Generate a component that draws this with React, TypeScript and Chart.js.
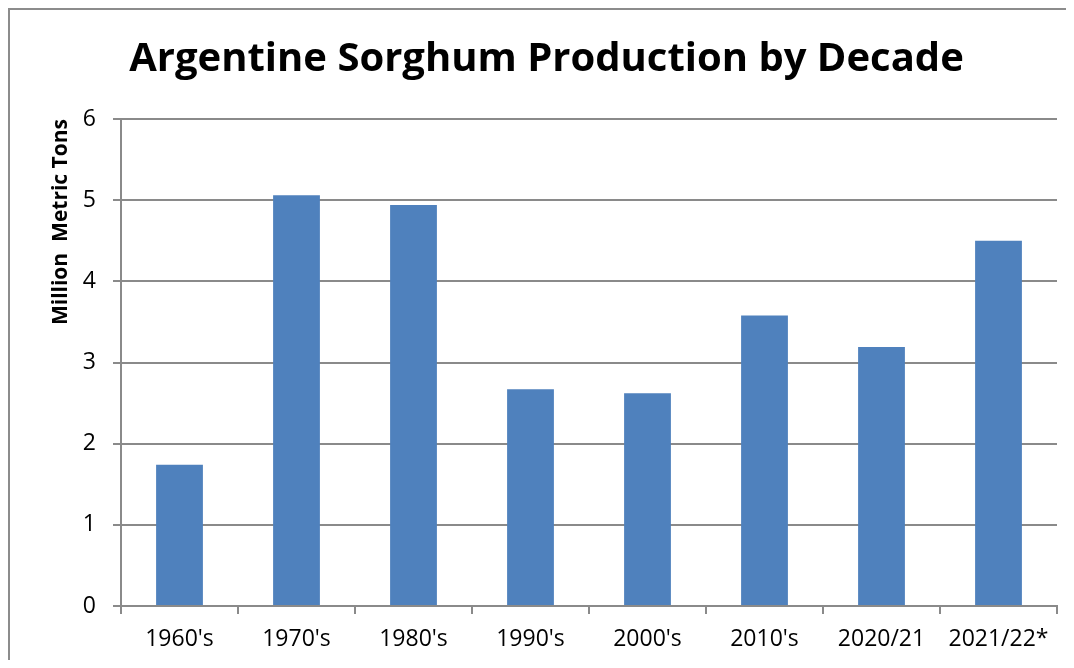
import React, { useEffect, useRef } from "react";
import { Chart, registerables } from "chart.js";

Chart.register(...registerables);

const categories = ["1960's", "1970's", "1980's", "1990's", "2000's", "2010's", "2020/21", "2021/22*"];
const production = [1.74, 5.06, 4.94, 2.67, 2.62, 3.58, 3.19, 4.5];
const yTicks = [0, 1, 2, 3, 4, 5, 6];

const chartTitle = "Argentine Sorghum Production by Decade";
const yAxisTitle = "Million  Metric Tons";

const FONT = "'Open Sans', 'Noto Sans', sans-serif";
const GRID = "#8a8a8a";

export default function App() {
  const ref = useRef<HTMLCanvasElement | null>(null);

  useEffect(() => {
    if (!ref.current) return;
    const chart = new Chart(ref.current, {
      type: "bar",
      data: {
        labels: categories,
        datasets: [
          {
            data: production,
            backgroundColor: "#4F81BD",
            borderWidth: 0,
            barPercentage: 0.4,
            categoryPercentage: 1,
          },
        ],
      },
      options: {
        animation: false,
        responsive: false,
        devicePixelRatio: 1,
        layout: { padding: { left: 26, right: 9, top: 0, bottom: 0 } },
        plugins: {
          legend: { display: false },
          tooltip: { enabled: false },
          title: {
            display: true,
            text: chartTitle,
            color: "#000",
            font: { family: FONT, size: 40, weight: "bold", lineHeight: 1.2 },
            padding: { top: 26, bottom: 35 },
          },
        },
        scales: {
          x: {
            grid: {
              display: true,
              drawOnChartArea: false,
              drawTicks: true,
              tickLength: 8,
              color: GRID,
              lineWidth: 2,
            },
            border: { display: true, color: GRID, width: 2 },
            ticks: {
              color: "#000",
              font: { family: FONT, size: 23 },
              padding: 12,
              maxRotation: 0,
              autoSkip: false,
            },
            afterFit: (s: any) => {
              s.height = 54;
            },
          },
          y: {
            min: 0,
            max: 6,
            afterBuildTicks: (s: any) => {
              s.ticks = yTicks.map((v) => ({ value: v }));
            },
            grid: {
              color: GRID,
              lineWidth: 2,
              drawTicks: true,
              tickLength: 8,
            },
            border: { display: true, color: GRID, width: 2 },
            ticks: {
              color: "#000",
              font: { family: FONT, size: 23 },
              padding: 17,
            },
            title: {
              display: true,
              text: yAxisTitle,
              align: "end",
              color: "#000",
              font: { family: FONT, size: 21, weight: "bold", lineHeight: 1.2 },
              padding: { top: 12, bottom: 0 },
            },
            afterFit: (s: any) => {
              s.width = 85;
            },
          },
        },
      },
    });
    return () => chart.destroy();
  }, []);

  return (
    <div
      style={{
        width: 1056,
        height: 650,
        borderLeft: "2px solid #8c8c8c",
        borderTop: "2px solid #8c8c8c",
        overflow: "hidden",
      }}
    >
      <canvas ref={ref} width={1056} height={650} style={{ display: "block" }} />
    </div>
  );
}
